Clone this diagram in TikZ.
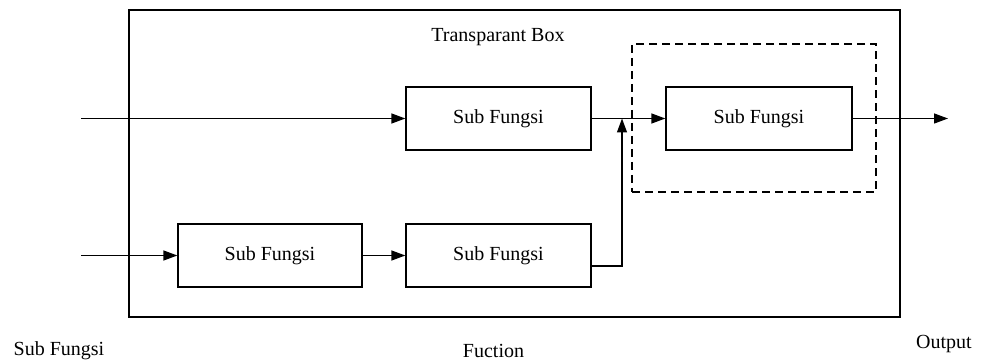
\documentclass[tikz,border=0pt]{standalone}
\usepackage{fontspec}
\setmainfont{Liberation Serif}
\usetikzlibrary{arrows.meta}
\begin{document}
\begin{tikzpicture}[x=1pt,y=-1pt,
  every node/.style={font=\fontsize{20}{24}\selectfont, inner sep=0pt},
  fbox/.style={draw, line width=1.3pt, minimum width=184pt, minimum height=63pt},
  conn/.style={line width=1.3pt, -{Triangle[length=14pt,width=10pt]}},
  plain/.style={line width=1.3pt}]
\useasboundingbox (0,0) rectangle (986,363);
% outer box
\node[draw, line width=1.3pt, minimum width=771pt, minimum height=307pt] (outer) at (514.5,163.5) {};
\node (title) at (498,37) {Transparant Box};
% dashed box
\node[draw, dashed, dash pattern=on 8pt off 5pt, line width=1.3pt, minimum width=244pt, minimum height=148pt] (dash) at (754,118) {};
% function boxes
\node[fbox, minimum width=185pt] (top) at (498.5,118.5) {Sub Fungsi};
\node[fbox, minimum width=186pt] (right) at (759,118.5) {Sub Fungsi};
\node[fbox] (bl) at (270,255.5) {Sub Fungsi};
\node[fbox, minimum width=185pt] (bm) at (498.5,255.5) {Sub Fungsi};
% free ends
\coordinate (in1) at (81,118.5);
\coordinate (in2) at (81,255.5);
\coordinate (out) at (948,118.5);
\coordinate (j) at (622,118.5);
% connectors
\draw[conn] (in1) -- (top.west);
\draw[conn] (in2) -- (bl.west);
\draw[conn] (bl.east) -- (bm.east -| bm.west);
\draw[conn] (top.east) -- (right.west);
\draw[conn] (bm.east |- 0,266) -| (j);
\draw[conn] (right.east) -- (out);
% labels
\node (l1) at (59,351) {Sub Fungsi};
\node (l2) at (493.5,351) {Fuction};
\node (l3) at (944,344) {Output};
\end{tikzpicture}
\end{document}
